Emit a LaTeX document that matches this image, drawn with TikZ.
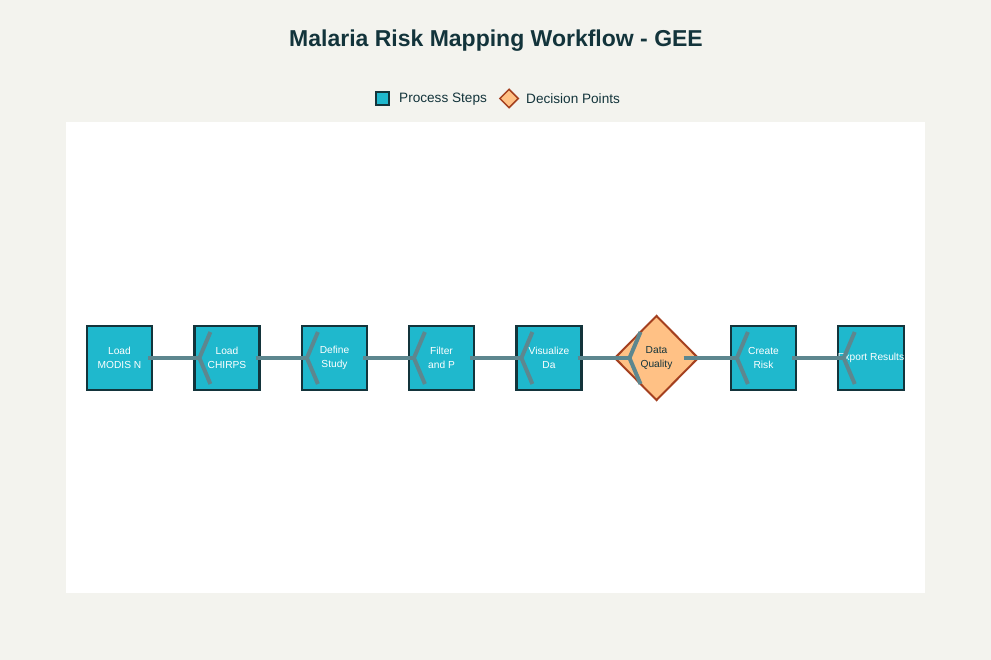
\documentclass[tikz,border=0pt]{standalone}
\usepackage{fontspec}
\setmainfont{Liberation Sans}
\usetikzlibrary{shapes.geometric}
\definecolor{bgc}{HTML}{F3F3EE}
\definecolor{tealc}{HTML}{1FB8CD}
\definecolor{darkc}{HTML}{13343B}
\definecolor{orangec}{HTML}{FFC185}
\definecolor{brownc}{HTML}{A4401F}
\definecolor{connc}{HTML}{5D878F}
\tikzset{
  stepbox/.style={rectangle, minimum width=65pt, minimum height=64pt, inner sep=0pt,
    fill=tealc, draw=darkc, line width=2.2pt, text=white, align=center,
    font=\fontsize{10.2}{13.5}\selectfont},
  decbox/.style={diamond, minimum width=84pt, minimum height=85pt, inner sep=0pt, aspect=1,
    fill=orangec, draw=brownc, line width=2pt, text=darkc, align=center,
    font=\fontsize{10.2}{13.5}\selectfont},
  conn/.style={draw=connc, line width=4pt},
  legtext/.style={anchor=west, inner sep=0pt, text=darkc, font=\fontsize{13.6}{15}\selectfont}
}
\begin{document}
\begin{tikzpicture}[x=1pt,y=-1pt]
\fill[bgc] (0,0) rectangle (991,660);
\fill[white] (66,122) rectangle (925,593);
\useasboundingbox (0,0) rectangle (991,660);
\node[text=darkc, font=\fontsize{23}{26}\selectfont\bfseries] (title) at (496,41) {Malaria Risk Mapping Workflow - GEE};
\node[rectangle, minimum size=13pt, inner sep=0pt, fill=tealc, draw=darkc, line width=1.5pt] (legsq) at (382.5,98.5) {};
\node[legtext] (legp) at (399,99) {Process Steps};
\node[diamond, minimum size=19pt, inner sep=0pt, aspect=1, fill=orangec, draw=brownc, line width=1.5pt] (legdi) at (509,98.5) {};
\node[legtext] (legd) at (526,99) {Decision Points};

\node[stepbox] (n1) at (119.5,358) {Load\\MODIS N};
\node[stepbox] (n2) at (227,358) {Load\\CHIRPS};
\node[stepbox] (n3) at (334.5,358) {Define\\Study};
\node[stepbox] (n4) at (441.5,358) {Filter\\and P};
\node[stepbox] (n5) at (549,358) {Visualize\\Da};
\node[decbox] (n6) at (656.5,358) {Data\\Quality};
\node[stepbox] (n7) at (763.5,358) {Create\\Risk};
\node[stepbox] (n8) at (871,358) {Export Results};

\foreach \a/\b/\s/\t in {n1/n2/5/6, n2/n3/5/6, n3/n4/5/6, n4/n5/5/6, n5/n6/5/16, n6/n7/16/7, n7/n8/5/7}{
  \draw[conn] ([xshift=-\s pt]\a.east) -- ([xshift=\t pt]\b.west);
  \draw[conn] ([xshift=\t pt+11pt, yshift=26pt]\b.west) -- ([xshift=\t pt]\b.west) -- ([xshift=\t pt+11pt, yshift=-26pt]\b.west);
}
\end{tikzpicture}
\end{document}
